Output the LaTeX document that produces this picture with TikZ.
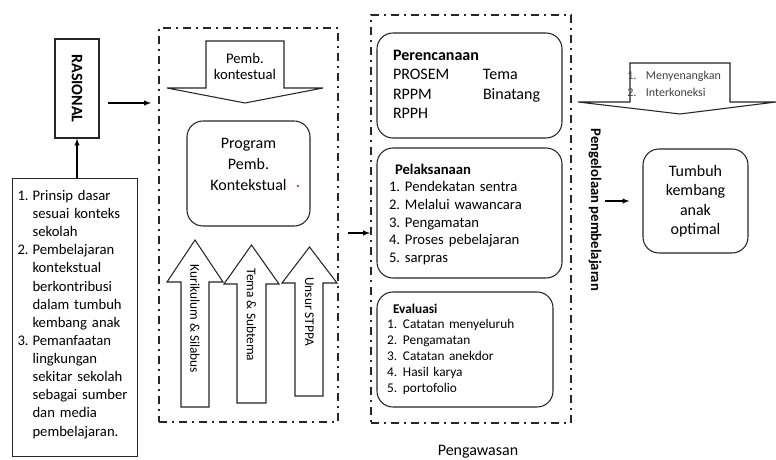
\documentclass[tikz,border=0pt]{standalone}
\usepackage{fontspec}
\setmainfont{Carlito}
\usetikzlibrary{positioning,arrows}

\begin{document}
\begin{tikzpicture}[x=0.75pt,y=-0.75pt,
	every node/.style={font=\fontsize{11}{14.7}\selectfont,inner sep=0pt},
	box/.style={draw=black!85,line width=0.8pt},
	rbox/.style={box,rounded corners=12pt},
	dashframe/.style={draw=black!85,line width=1.4pt,dash pattern=on 6pt off 3.75pt on 1.5pt off 3.75pt},
	blockarrow/.style={draw=black!85,line width=0.8pt,fill=white},
	arr/.style={-latex,line width=0.8pt}]
			\useasboundingbox (0,0) rectangle (776,460);

			%left column
			\node [box,minimum width=33pt,minimum height=74.25pt,
				label={[rotate=-90,font=\fontsize{12}{14}\selectfont\bfseries]center:RASIONAL}] (rasional) at (77,88.5) {};
			\node [box,anchor=north west,text width=86.25pt,inner xsep=3.75pt,minimum height=208.5pt,font=\fontsize{11}{13.6}\selectfont] (prinsip) at (12,178) {%
				\begin{tabular}{@{}p{11.25pt}@{}l@{}}
					1. & Prinsip dasar\\
					   & sesuai konteks\\
					   & sekolah\\
					2. & Pembelajaran\\
					   & kontekstual\\
					   & berkontribusi\\
					   & dalam tumbuh\\
					   & kembang anak\\
					3. & Pemanfaatan\\
					   & lingkungan\\
					   & sekitar sekolah\\
					   & sebagai sumber\\
					   & dan media\\
					   & pembelajaran.\rule[-8.5pt]{0pt}{8.5pt}
				\end{tabular}};

			%middle frame
			\node [dashframe,minimum width=134.25pt,minimum height=295.5pt] (pemb) at (248.5,225) {};
			\draw [blockarrow] (206,41) -- (284,41) -- (284,88) -- (323,88) -- (245,103) -- (167,88) -- (206,88) -- cycle;
			\node [align=center,font=\fontsize{11}{12}\selectfont] (kontestual) at (245,66) {Pemb.\\kontestual};
			\node [rbox,minimum width=92.25pt,minimum height=78.75pt,align=center,font=\fontsize{12}{15.75}\selectfont] (program) at (248.5,173.5) {Program\\Pemb.\\Kontekstual\rule[-13.5pt]{0pt}{13.5pt}};
			\fill [red] (298,186) circle (0.9pt);

			\draw [blockarrow] (181,407) -- (181,282) -- (167,282) -- (195,240) -- (223,282) -- (209,282) -- (209,407) -- cycle;
			\draw [blockarrow] (237,403) -- (237,284) -- (224,284) -- (251.5,245) -- (279,284) -- (266,284) -- (266,403) -- cycle;
			\draw [blockarrow] (295,396) -- (295,283) -- (282,283) -- (309.5,247) -- (337,283) -- (323,283) -- (323,396) -- cycle;
			\node [rotate=-90,font=\fontsize{10}{12}\selectfont] (kurikulum) at (195,319) {Kurikulum \& Silabus};
			\node [rotate=-90,font=\fontsize{10}{12}\selectfont] (tema) at (251.5,315) {Tema \& Subtema};
			\node [rotate=-90,font=\fontsize{10}{12}\selectfont] (stppa) at (309.5,311.5) {Unsur STPPA};

			%right frame
			\node [dashframe,minimum width=150pt,minimum height=306pt] (kelola) at (471,219) {};
			\node [rbox,minimum width=138.75pt,minimum height=78.75pt,text width=114.75pt,inner xsep=12pt,font=\fontsize{12}{14.5}\selectfont] (perencanaan) at (469.5,85.5) {%
				\begin{tabular}{@{}p{67.5pt}@{}l@{}}
					\multicolumn{2}{@{}l}{\bfseries Perencanaan}\\
					PROSEM & Tema\\
					RPPM & Binatang\\
					RPPH &
				\end{tabular}};
			\node [rbox,minimum width=138.75pt,minimum height=97.5pt,text width=120.75pt,inner xsep=9pt,font=\fontsize{11}{13.2}\selectfont] (pelaksanaan) at (469.5,213) {%
				\begin{tabular}{@{}p{12pt}@{}l@{}}
					\multicolumn{2}{@{\hspace{4.5pt}}l}{\bfseries Pelaksanaan\rule{0pt}{12pt}}\\
					1. & Pendekatan sentra\\
					2. & Melalui wawancara\\
					3. & Pengamatan\\
					4. & Proses pebelajaran\\
					5. & sarpras
				\end{tabular}};
			\node [rbox,minimum width=132pt,minimum height=86.25pt,text width=117pt,inner xsep=7.5pt,font=\fontsize{10}{11.85}\selectfont] (evaluasi) at (465,349.5) {%
				\begin{tabular}{@{}p{12pt}@{}l@{}}
					\multicolumn{2}{@{\hspace{4.5pt}}l}{\bfseries Evaluasi}\\
					1. & Catatan menyeluruh\\
					2. & Pengamatan\\
					3. & Catatan anekdor\\
					4. & Hasil karya\\
					5. & portofolio
				\end{tabular}};
			\node [font=\fontsize{12}{14}\selectfont] (pengawasan) at (478,452) {Pengawasan};
			\node [rotate=-90,font=\fontsize{11}{13}\selectfont\bfseries] (pengelolaan) at (595,210) {Pengelolaan pembelajaran};

			%outcome
			\draw [blockarrow] (630,63) -- (730,63) -- (730,102) -- (776,102) -- (680,114) -- (578,102) -- (630,102) -- cycle;
			\node [anchor=west,font=\fontsize{9}{12.75}\selectfont,text=black!75] (prinsipmain) at (627,84.5) {%
				\begin{tabular}{@{}p{14pt}@{}l@{}}
					1. & Menyenangkan\\
					2. & Interkoneksi
				\end{tabular}};
			\node [rbox,minimum width=78.75pt,minimum height=78pt,align=center,font=\fontsize{12}{14.6}\selectfont] (tumbuh) at (695.5,201) {Tumbuh\\kembang\\anak\\optimal};

			%edges
			\coordinate (r1) at ([shift={(8,14.5)}]rasional.east);
			\coordinate (r2) at ([shift={(9,8)}]pemb.east);
			\coordinate (r3) at ([shift={(-37,0)}]tumbuh.west);
			\draw [arr] (rasional.south |- prinsip.north) -- (rasional.south);
			\draw [arr,shorten >=5.25pt] (r1) -- (r1 -| pemb.west);
			\draw [arr] (r2) -- (r2 -| kelola.west);
			\draw [arr] (r3) -- ([shift={(-13,0)}]tumbuh.west);
\end{tikzpicture}
\end{document}
